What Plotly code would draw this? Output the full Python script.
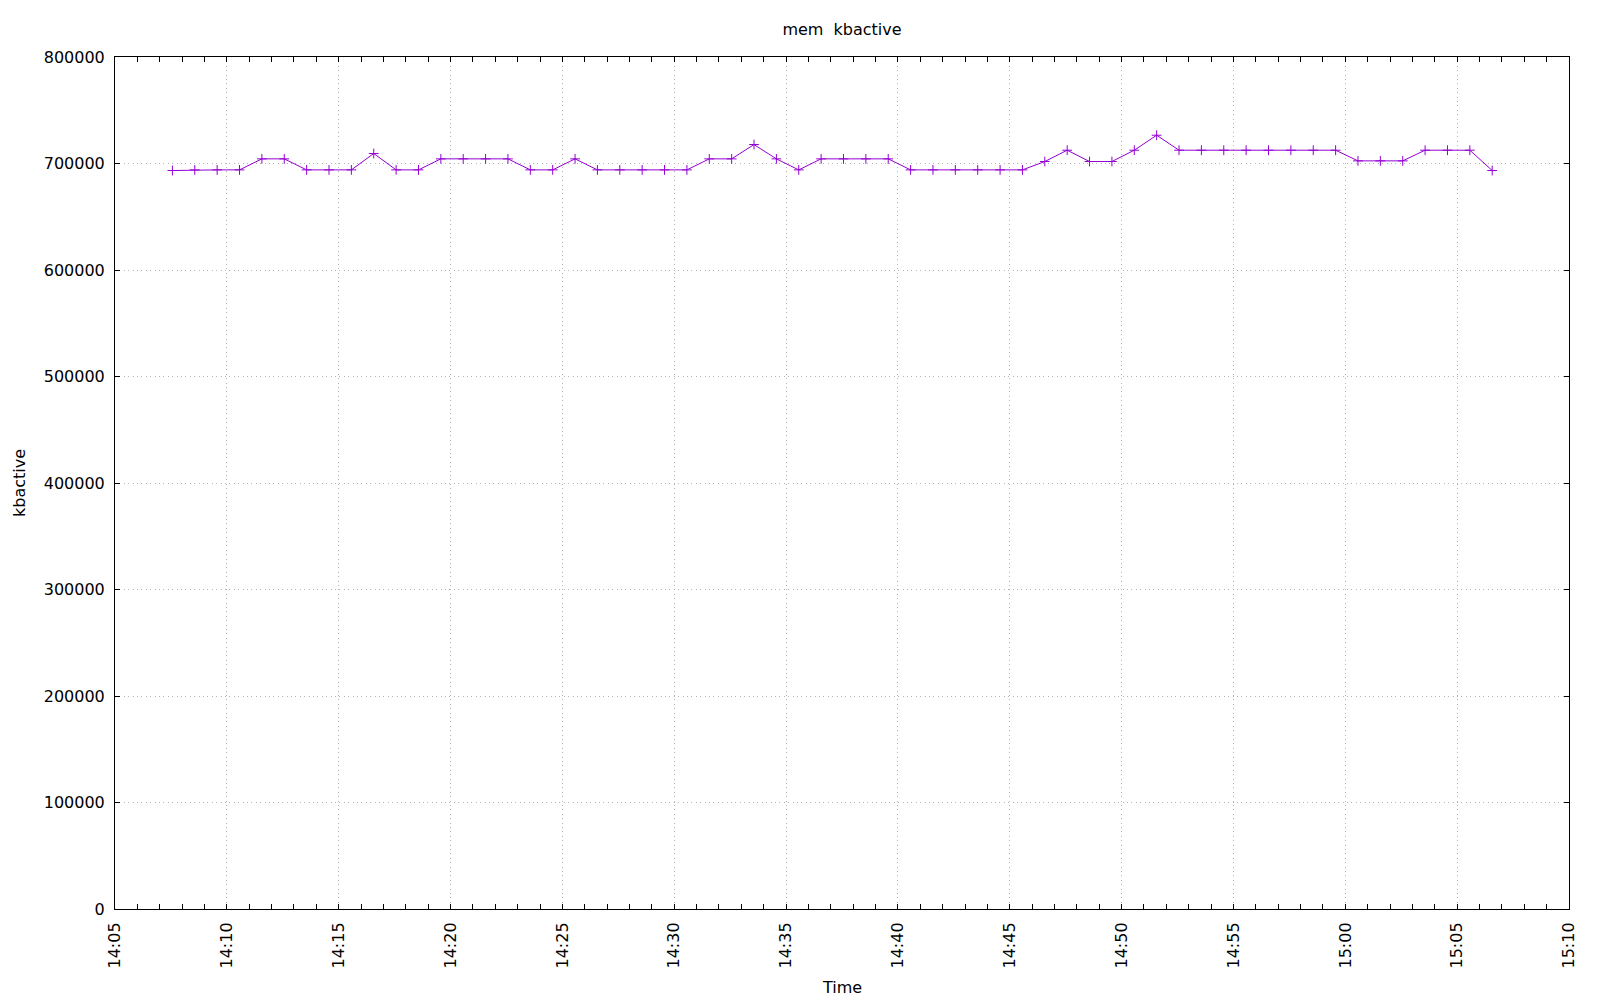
import plotly.graph_objects as go

times = [
    "2024-01-01 14:07:34", "2024-01-01 14:08:34", "2024-01-01 14:09:34", "2024-01-01 14:10:34",
    "2024-01-01 14:11:34", "2024-01-01 14:12:34", "2024-01-01 14:13:34", "2024-01-01 14:14:34",
    "2024-01-01 14:15:34", "2024-01-01 14:16:34", "2024-01-01 14:17:34", "2024-01-01 14:18:34",
    "2024-01-01 14:19:34", "2024-01-01 14:20:34", "2024-01-01 14:21:34", "2024-01-01 14:22:34",
    "2024-01-01 14:23:34", "2024-01-01 14:24:34", "2024-01-01 14:25:34", "2024-01-01 14:26:34",
    "2024-01-01 14:27:34", "2024-01-01 14:28:34", "2024-01-01 14:29:34", "2024-01-01 14:30:34",
    "2024-01-01 14:31:34", "2024-01-01 14:32:34", "2024-01-01 14:33:34", "2024-01-01 14:34:34",
    "2024-01-01 14:35:34", "2024-01-01 14:36:34", "2024-01-01 14:37:34", "2024-01-01 14:38:34",
    "2024-01-01 14:39:34", "2024-01-01 14:40:34", "2024-01-01 14:41:34", "2024-01-01 14:42:34",
    "2024-01-01 14:43:34", "2024-01-01 14:44:34", "2024-01-01 14:45:34", "2024-01-01 14:46:34",
    "2024-01-01 14:47:34", "2024-01-01 14:48:34", "2024-01-01 14:49:34", "2024-01-01 14:50:34",
    "2024-01-01 14:51:34", "2024-01-01 14:52:34", "2024-01-01 14:53:34", "2024-01-01 14:54:34",
    "2024-01-01 14:55:34", "2024-01-01 14:56:34", "2024-01-01 14:57:34", "2024-01-01 14:58:34",
    "2024-01-01 14:59:34", "2024-01-01 15:00:34", "2024-01-01 15:01:34", "2024-01-01 15:02:34",
    "2024-01-01 15:03:34", "2024-01-01 15:04:34", "2024-01-01 15:05:34", "2024-01-01 15:06:34",
]

kbactive = [
    693400, 694000, 694000, 694000, 704350, 704350, 694000, 694000,
    694000, 709360, 694000, 694000, 704350, 704350, 704350, 704350,
    694000, 694000, 704350, 694000, 694000, 694000, 694000, 694000,
    704350, 704350, 717800, 704350, 694000, 704350, 704350, 704350,
    704350, 694000, 694000, 694000, 694000, 694000, 694000, 701850,
    712480, 701850, 701850, 712480, 726560, 712480, 712480, 712480,
    712480, 712480, 712480, 712480, 712480, 702470, 702470, 702470,
    712480, 712480, 712480, 693400,
]

title_text = "mem\u00a0 kbactive"
x_label = "Time"
y_label = "kbactive"
x_range = ["2024-01-01 14:05:00", "2024-01-01 15:10:00"]
y_range = [0, 800000]

FONT = "DejaVu Sans"
FS = 16
GRID_DASH = "1px,3.4px"
fig = go.Figure()
fig.add_trace(go.Scatter(
    x=times, y=kbactive, mode="lines+markers",
    line=dict(color="#9400D3", width=1),
    marker=dict(symbol="cross-thin", size=7, line=dict(color="#9400D3", width=1)),
    showlegend=False,
))

fig.update_layout(
    width=1600, height=1000,
    margin=dict(l=115, r=31, t=57, b=91),
    paper_bgcolor="white", plot_bgcolor="white",
    font=dict(family=FONT, size=FS, color="black"),
    title=dict(text=title_text, x=0.5 * (115 + 1569) / 1600, xanchor="center",
               y=1 - 29 / 1000, yanchor="middle", yref="container",
               font=dict(family=FONT, size=FS, color="black")),
    annotations=[
        dict(text=x_label, xref="paper", yref="paper", x=0.5, y=0, yshift=-78,
             xanchor="center", yanchor="middle", showarrow=False,
             font=dict(family=FONT, size=FS, color="black")),
        dict(text=y_label, xref="paper", yref="paper", x=0, y=0.5, xshift=-96,
             xanchor="center", yanchor="middle", textangle=-90, showarrow=False,
             font=dict(family=FONT, size=FS, color="black")),
    ],
)

fig.update_xaxes(
    type="date", range=x_range, dtick=5 * 60 * 1000, tick0="2024-01-01 14:05:00",
    tickformat="%H:%M", tickangle=-90, tickfont=dict(size=FS),
    showline=True, linecolor="black", linewidth=1, mirror="ticks",
    ticks="inside", ticklen=5, tickcolor="black",
    minor=dict(ticks="inside", dtick=60 * 1000, ticklen=5, tickcolor="black", showgrid=False),
    showgrid=True, gridcolor="#b4b4b4", griddash=GRID_DASH, gridwidth=1,
    zeroline=False, ticklabelstandoff=6,
)
fig.update_yaxes(
    range=y_range, dtick=100000, tickformat="d", tickfont=dict(size=FS),
    showline=True, linecolor="black", linewidth=1, mirror="ticks",
    ticks="inside", ticklen=5, tickcolor="black",
    showgrid=True, gridcolor="#b4b4b4", griddash=GRID_DASH, gridwidth=1,
    zeroline=False, ticklabelstandoff=6,
)

fig.write_html(
    "out.html",
    config={"displayModeBar": False},
    post_script="document.body.style.margin='0';document.body.style.padding='0';",
)
